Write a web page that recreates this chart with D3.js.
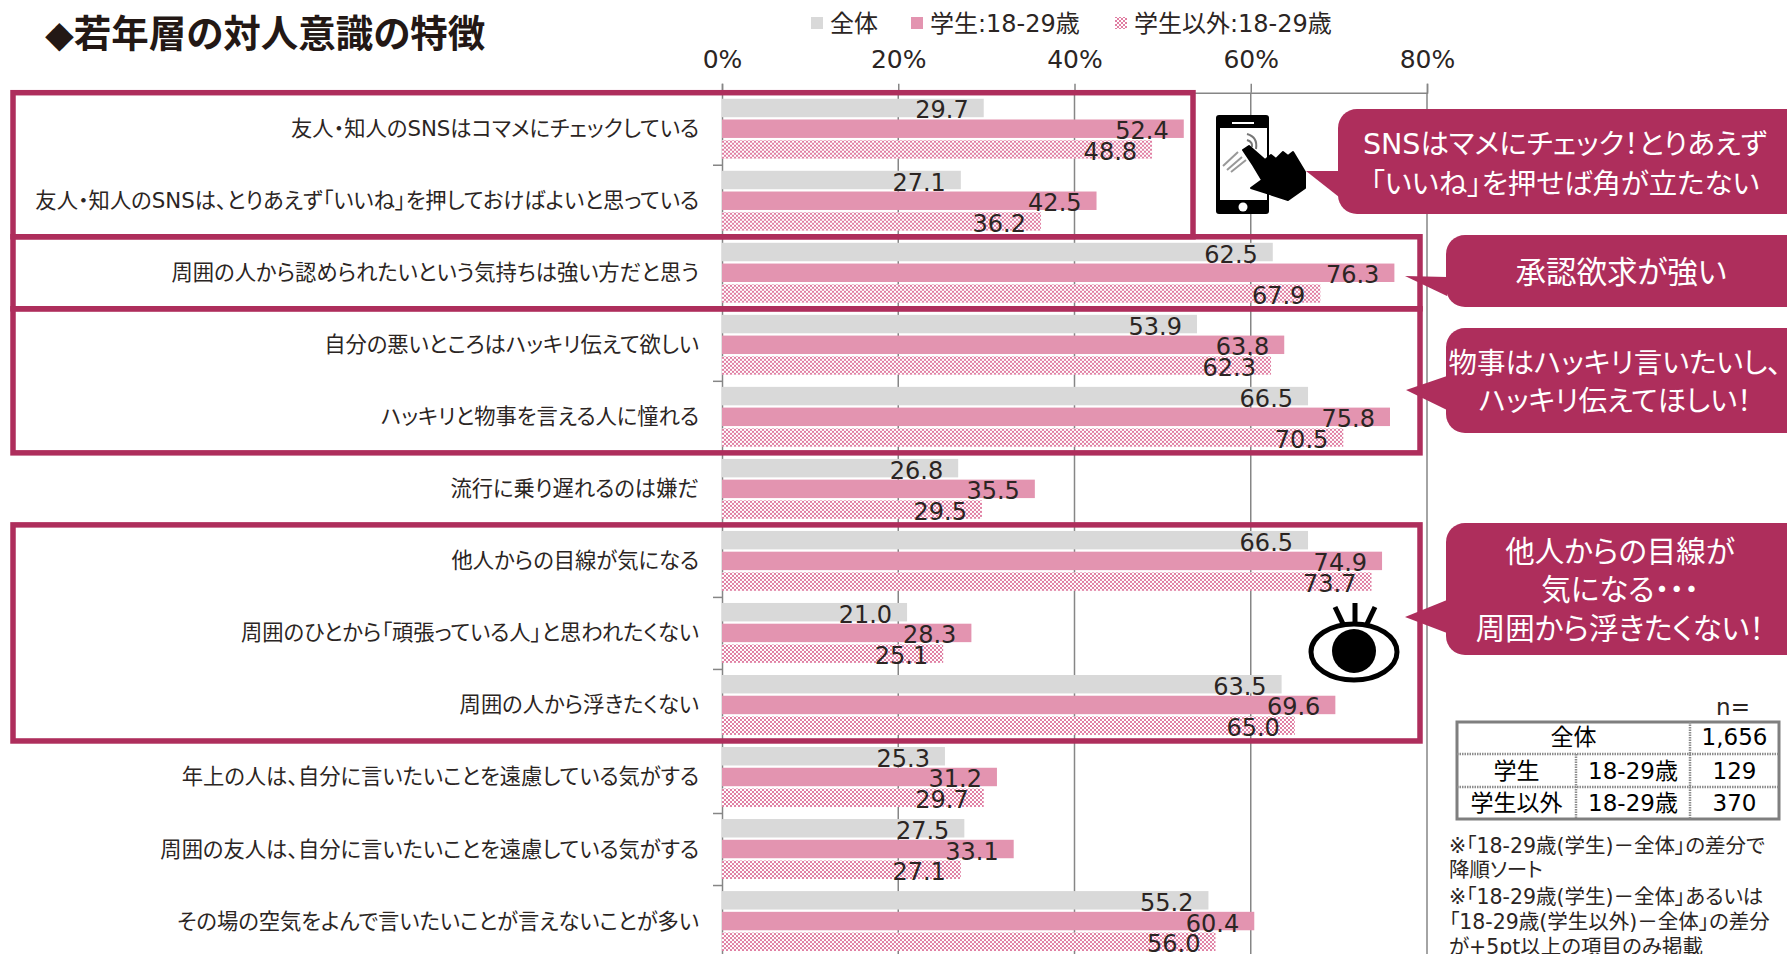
<!DOCTYPE html>
<html>
<head>
<meta charset="utf-8">
<script src="https://cdn.jsdelivr.net/npm/d3@7"></script>
<style>
html, body { margin: 0; padding: 0; background: #fff; overflow: hidden; }
svg { display: block; }
text { font-family: "DejaVu Sans", "Noto Sans CJK JP", sans-serif; font-feature-settings: "palt"; fill: #2b2523; }
</style>
</head>
<body>
<svg class="chart"></svg>
<script>
var svgWidth = 1787, svgHeight = 954;

var categories = [
  '友人・知人のSNSはコマメにチェックしている',
  '友人・知人のSNSは、とりあえず「いいね」を押しておけばよいと思っている',
  '周囲の人から認められたいという気持ちは強い方だと思う',
  '自分の悪いところはハッキリ伝えて欲しい',
  'ハッキリと物事を言える人に憧れる',
  '流行に乗り遅れるのは嫌だ',
  '他人からの目線が気になる',
  '周囲のひとから「頑張っている人」と思われたくない',
  '周囲の人から浮きたくない',
  '年上の人は、自分に言いたいことを遠慮している気がする',
  '周囲の友人は、自分に言いたいことを遠慮している気がする',
  'その場の空気をよんで言いたいことが言えないことが多い'
];
var seriesNames = ['全体', '学生:18-29歳', '学生以外:18-29歳'];
var zentai = [29.7, 27.1, 62.5, 53.9, 66.5, 26.8, 66.5, 21.0, 63.5, 25.3, 27.5, 55.2];
var gakusei = [52.4, 42.5, 76.3, 63.8, 75.8, 35.5, 74.9, 28.3, 69.6, 31.2, 33.1, 60.4];
var igai = [48.8, 36.2, 67.9, 62.3, 70.5, 29.5, 73.7, 25.1, 65.0, 29.7, 27.1, 56.0];
var seriesValues = [zentai, gakusei, igai];
var xTicks = [0, 20, 40, 60, 80];

var tableRows = [
  ['全体', '', '1,656'],
  ['学生', '18-29歳', '129'],
  ['学生以外', '18-29歳', '370']
];
var notes = [
  '※「18-29歳(学生)－全体」の差分で',
  '降順ソート',
  '※「18-29歳(学生)－全体」あるいは',
  '「18-29歳(学生以外)－全体」の差分',
  'が+5pt以上の項目のみ掲載'
];

var dark = '#ae2e5c', pink = '#e394b0', grey = '#d9d9d9', axisGrey = '#868686';

var svg = d3.select('svg.chart').attr('width', svgWidth).attr('height', svgHeight);

var defs = svg.append('defs');
var pat = defs.append('pattern').attr('id', 'hatch').attr('patternUnits', 'userSpaceOnUse')
    .attr('width', 4).attr('height', 4);
pat.append('rect').attr('width', 4).attr('height', 4).attr('fill', '#fff');
pat.append('rect').attr('width', 2).attr('height', 2).attr('fill', '#e07fa3');
pat.append('rect').attr('x', 2).attr('y', 2).attr('width', 2).attr('height', 2).attr('fill', '#e07fa3');

var fills = [grey, pink, 'url(#hatch)'];

var plotTop = 92.7, step = 72.03;
var x = d3.scaleLinear().domain([0, 80]).range([722, 1427]);
var rowEdge = d3.scaleLinear().domain([0, 12]).range([plotTop, plotTop + 12 * step]);
var y = d3.scaleBand().domain(categories).range([plotTop, plotTop + 12 * step]).paddingInner(0.168).paddingOuter(0.084);
var ySeries = d3.scaleBand().domain(d3.range(3)).range([0, y.bandwidth()]).paddingInner(0.11);

// gridlines first so the bars sit on them
svg.append('g').selectAll('line')
    .data(xTicks.slice(1))
    .enter()
    .append('line')
    .attr('x1', function(d) { return x(d); })
    .attr('x2', function(d) { return x(d); })
    .attr('y1', plotTop)
    .attr('y2', svgHeight)
    .attr('stroke', axisGrey)
    .attr('stroke-width', 1.5);

var topAxis = svg.append('g')
    .attr('transform', 'translate(0,' + plotTop + ')')
    .call(d3.axisTop(x).tickValues(xTicks).tickSize(9).tickFormat(function(d) { return d + '%'; }));
topAxis.selectAll('path, line').attr('stroke', axisGrey).attr('stroke-width', 1.5);
topAxis.attr('font-family', null);
topAxis.selectAll('text').attr('font-size', 25).attr('dy', 0).attr('y', -25);

var leftAxis = svg.append('g')
    .attr('transform', 'translate(' + x(0) + ',0)')
    .attr('font-family', null)
    .call(d3.axisLeft(rowEdge).ticks(12).tickSize(9).tickFormat(''));
leftAxis.selectAll('line').attr('stroke', axisGrey).attr('stroke-width', 1.5);
leftAxis.select('path').attr('stroke', axisGrey).attr('stroke-width', 1.5);

// bars
var groups = svg.append('g').selectAll('g')
    .data(categories)
    .enter()
    .append('g')
    .attr('transform', function(d) { return 'translate(0,' + y(d) + ')'; });

groups.selectAll('rect')
    .data(function(d, i) { return seriesValues.map(function(s, j) { return { s: j, v: s[i] }; }); })
    .enter()
    .append('rect')
    .attr('x', x(0))
    .attr('y', function(d) { return ySeries(d.s); })
    .attr('width', function(d) { return x(d.v) - x(0); })
    .attr('height', ySeries.bandwidth())
    .attr('fill', function(d) { return fills[d.s]; });

groups.selectAll('text.val')
    .data(function(d, i) { return seriesValues.map(function(s, j) { return { s: j, v: s[i] }; }); })
    .enter()
    .append('text')
    .attr('class', 'val')
    .attr('x', function(d) { return x(d.v) - 15; })
    .attr('y', function(d) { return ySeries(d.s) + ySeries.bandwidth() / 2 + 10.5; })
    .attr('text-anchor', 'end')
    .attr('font-size', 24)
    .text(function(d) { return d.v.toFixed(1); });

// category labels
svg.append('g').selectAll('text')
    .data(categories)
    .enter()
    .append('text')
    .attr('x', 699)
    .attr('y', function(d) { return y(d) + y.bandwidth() / 2 + 7.5; })
    .attr('text-anchor', 'end')
    .attr('font-size', 21.3)
    .text(function(d) { return d; });

// highlight boxes, in row numbers
var boxes = [[0, 2, 1193], [2, 3, 1420], [3, 5, 1420], [6, 9, 1420]];
svg.append('g').selectAll('rect')
    .data(boxes)
    .enter()
    .append('rect')
    .attr('x', 13)
    .attr('y', function(d) { return rowEdge(d[0]); })
    .attr('width', function(d) { return d[2] - 13; })
    .attr('height', function(d) { return rowEdge(d[1]) - rowEdge(d[0]); })
    .attr('fill', 'none')
    .attr('stroke', dark)
    .attr('stroke-width', 5.5);

// title
svg.append('text')
    .attr('x', 45).attr('y', 47)
    .attr('font-size', 37.5)
    .attr('font-weight', 700)
    .style('fill', '#231815')
    .text('◆若年層の対人意識の特徴');

// legend
var legendX = [811, 911, 1115];
var legend = svg.append('g').selectAll('g')
    .data(seriesNames)
    .enter()
    .append('g')
    .attr('transform', function(d, i) { return 'translate(' + legendX[i] + ',0)'; });
legend.append('rect')
    .attr('y', 17).attr('width', 12).attr('height', 12)
    .attr('fill', function(d, i) { return fills[i]; });
legend.append('text')
    .attr('x', 19).attr('y', 32)
    .attr('font-size', 24)
    .text(function(d) { return d; });

// callouts
var callouts = [
  { x: 1338, y: 109, h: 105, tip: [1306, 171], base: [171, 197], cx: 1565, size: 28.5, lines: [[144, 'SNSはマメにチェック！とりあえず'], [184, '「いいね」を押せば角が立たない']] },
  { x: 1446, y: 235, h: 72, tip: [1405, 276], base: [277, 296], cx: 1621, size: 30.5, lines: [[273, '承認欲求が強い']] },
  { x: 1446, y: 328, h: 105, tip: [1406, 390], base: [376, 410], cx: 1615, size: 28.5, lines: [[363, '物事はハッキリ言いたいし、'], [401, 'ハッキリ伝えてほしい！']] },
  { x: 1446, y: 523, h: 132, tip: [1405, 617], base: [600, 633], cx: 1620, size: 29.5, lines: [[552, '他人からの目線が'], [590, '気になる・・・'], [629, '周囲から浮きたくない！']] }
];
var call = svg.append('g').selectAll('g').data(callouts).enter().append('g');
call.append('rect')
    .attr('x', function(d) { return d.x; })
    .attr('y', function(d) { return d.y; })
    .attr('width', function(d) { return 1810 - d.x; })
    .attr('height', function(d) { return d.h; })
    .attr('rx', 19)
    .attr('fill', dark);
call.append('path')
    .attr('d', function(d) {
      return 'M' + d.tip[0] + ',' + d.tip[1] + 'L' + (d.x + 1) + ',' + d.base[0] + 'L' + (d.x + 1) + ',' + d.base[1] + 'Z';
    })
    .attr('fill', dark);
call.selectAll('text')
    .data(function(d) { return d.lines.map(function(l) { return { cx: d.cx, y: l[0], t: l[1], size: d.size }; }); })
    .enter()
    .append('text')
    .attr('x', function(d) { return d.cx; })
    .attr('y', function(d) { return d.y + 10; })
    .attr('text-anchor', 'middle')
    .attr('font-size', function(d) { return d.size; })
    .style('fill', '#fff')
    .text(function(d) { return d.t; });

// phone and hand icon
var phone = svg.append('g');
phone.append('rect').attr('x', 1216).attr('y', 115).attr('width', 53).attr('height', 99).attr('rx', 3).attr('fill', '#000');
phone.append('rect').attr('x', 1220).attr('y', 128).attr('width', 47).attr('height', 72).attr('fill', '#fff');
phone.append('circle').attr('cx', 1243).attr('cy', 207).attr('r', 4.5).attr('fill', '#fff');
phone.append('rect').attr('x', 1232).attr('y', 122).attr('width', 22).attr('height', 2).attr('fill', '#fff');
phone.append('path').attr('d', 'M1223,166L1238,152M1227,170L1242,157M1231,172L1246,160')
    .attr('stroke', '#999').attr('stroke-width', 2).attr('fill', 'none');
phone.append('path').attr('d', 'M1247,134Q1258,137 1256,149M1247,140Q1253,142 1252,147')
    .attr('stroke', '#777').attr('stroke-width', 2).attr('fill', 'none');
phone.append('path')
    .attr('d', 'M1243,150L1249,146L1265,160L1271,155L1276,159L1283,152L1288,156L1293,152L1305,172L1305,188L1288,200L1251,188L1262,180L1253,165Z')
    .attr('fill', '#000')
    .attr('stroke', '#000')
    .attr('stroke-width', 2)
    .attr('stroke-linejoin', 'round');

// eye icon
var eye = svg.append('g');
eye.append('path').attr('d', 'M1335,607L1345,628M1355,603L1355,625M1375,607L1365,628')
    .attr('stroke', '#000').attr('stroke-width', 5).attr('fill', 'none');
eye.append('ellipse').attr('cx', 1354).attr('cy', 652).attr('rx', 43).attr('ry', 28)
    .attr('fill', '#fff').attr('stroke', '#000').attr('stroke-width', 5);
eye.append('ellipse').attr('cx', 1354).attr('cy', 651).attr('rx', 22).attr('ry', 22).attr('fill', '#000');

// n table
var colX = [1457, 1576, 1690, 1779];
var rowY = [722, 754, 787, 819];
svg.append('text').attr('x', 1733).attr('y', 715).attr('text-anchor', 'middle').attr('font-size', 23).text('n=');
var tbl = svg.append('g');
tbl.append('rect').attr('x', colX[0]).attr('y', rowY[0]).attr('width', colX[3] - colX[0]).attr('height', rowY[3] - rowY[0])
    .attr('fill', '#fff').attr('stroke', '#7f7f7f').attr('stroke-width', 3);
tbl.selectAll('line.r').data(rowY.slice(1, 3)).enter().append('line').attr('class', 'r')
    .attr('x1', colX[0]).attr('x2', colX[3])
    .attr('y1', function(d) { return d; }).attr('y2', function(d) { return d; })
    .attr('stroke', '#8c8c8c').attr('stroke-width', 2.5).attr('stroke-dasharray', '1.5,1');
tbl.append('line').attr('x1', colX[1]).attr('x2', colX[1]).attr('y1', rowY[1]).attr('y2', rowY[3])
    .attr('stroke', '#8c8c8c').attr('stroke-width', 2.5).attr('stroke-dasharray', '1.5,1');
tbl.append('line').attr('x1', colX[2]).attr('x2', colX[2]).attr('y1', rowY[0]).attr('y2', rowY[3])
    .attr('stroke', '#8c8c8c').attr('stroke-width', 2.5).attr('stroke-dasharray', '1.5,1');
tableRows.forEach(function(row, r) {
  var cy = (rowY[r] + rowY[r + 1]) / 2 + (r === 0 ? 7 : 8);
  var cells = r === 0
    ? [[(colX[0] + colX[2]) / 2, row[0]], [(colX[2] + colX[3]) / 2, row[2]]]
    : [[(colX[0] + colX[1]) / 2, row[0]], [(colX[1] + colX[2]) / 2, row[1]], [(colX[2] + colX[3]) / 2, row[2]]];
  tbl.selectAll('text.c' + r).data(cells).enter().append('text').attr('class', 'c' + r)
      .attr('x', function(d) { return d[0]; })
      .attr('y', cy)
      .attr('text-anchor', 'middle')
      .attr('font-size', 23)
      .style('fill', '#000')
      .text(function(d) { return d[1]; });
});

// notes
var noteY = [853, 877, 904, 929, 954];
svg.append('g').selectAll('text')
    .data(notes)
    .enter()
    .append('text')
    .attr('x', 1449)
    .attr('y', function(d, i) { return noteY[i]; })
    .attr('font-size', 20.5)
    .text(function(d) { return d; });
</script>
</body>
</html>
